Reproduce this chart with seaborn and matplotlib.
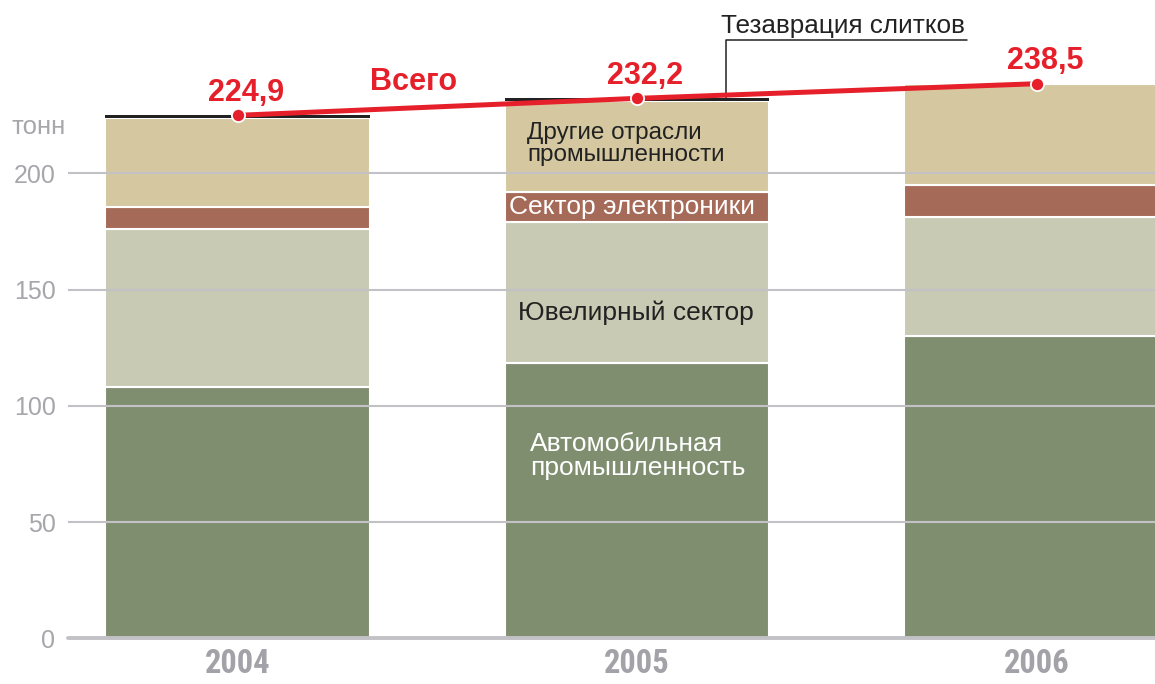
import numpy as np
import pandas as pd
import seaborn as sns
import matplotlib
matplotlib.use("Agg")
import matplotlib.pyplot as plt

# gold demand by sector, tonnes
years = ["2004", "2005", "2006"]
auto = [108.0, 118.5, 130.0]
jewelry = [68.0, 60.7, 51.3]
electronics = [9.6, 12.9, 13.7]
other = [38.0, 38.8, 43.5]
hoarding = [1.3, 1.3, 0.0]
totals = [224.9, 232.2, 238.5]
total_labels = ["224,9", "232,2", "238,5"]
yticks = [0, 50, 100, 150, 200]

RED = "#e6202a"
GRID = "#c2c2c6"
GREY_TXT = "#a6a6ab"
NARROW = ["Liberation Sans Narrow", "Roboto Condensed", "DejaVu Sans Condensed",
          "Open Sans Condensed", "DejaVu Sans"]

sns.set_theme(style="white")
plt.rcParams["font.family"] = ["Liberation Sans", "DejaVu Sans"]

W, H = 1155, 684
fig = plt.figure(figsize=(W / 100, H / 100), dpi=100)
# px -> figure coords: axes starts at x=68px, y of zero at 638px
ax = fig.add_axes([68 / W, (H - 638.3) / H, (W - 68) / W, 638.3 / H])

layers = [
    (auto, "#808e70", "white", 1.5),
    (jewelry, "#c8cab4", "white", 1.5),
    (electronics, "#a66a58", "white", 1.5),
    (other, "#d5c8a0", "white", 1.5),
    (hoarding, "#222222", "none", 0),
]
bottom = np.zeros(len(years))
for vals, col, ec, lw in layers:
    sns.barplot(x=years, y=vals, bottom=bottom, color=col, saturation=1,
                width=0.663, errorbar=None, edgecolor=ec, linewidth=lw, ax=ax)
    bottom = bottom + np.array(vals)

# x range so bars land where they do in the original (2006 bar cut by the edge)
ax.set_xlim(-0.4243, 2.2966)
ax.set_ylim(0, 274.5)
sns.despine(ax=ax, left=True, bottom=True)

ax.set_axisbelow(False)
ax.set_yticks(yticks)
ax.set_yticklabels([str(t) for t in yticks], fontsize=18, color=GREY_TXT)
ax.tick_params(axis="y", length=0, pad=9)
ax.tick_params(axis="x", length=0, pad=7)
ax.set_xticks(range(len(years)))
ax.set_xticklabels(years, fontsize=23.5, fontweight="bold", color="#a2a2a8",
                   family=NARROW, fontstretch="condensed")
ax.set_xlabel("")
ax.set_ylabel("")
for t in yticks[1:]:
    ax.axhline(t, color=GRID, lw=1.5, zorder=2.5)
ax.axhline(0, color=GRID, lw=2.8, zorder=2.5, clip_on=False)

# total line
ax.plot(range(len(years)), totals, color=RED, lw=3.6, marker="o", ms=9.5,
        mfc=RED, mec="white", mew=1.3, zorder=6, solid_capstyle="butt")
for i, (v, s) in enumerate(zip(totals, total_labels)):
    ax.annotate(s, (i, v), xytext=(6, 10.5), textcoords="offset points",
                ha="center", va="baseline", fontsize=22, fontweight="bold",
                color=RED, zorder=7)
ax.text(0.4418, 235.8, "Всего", ha="center", va="baseline", fontsize=22,
        fontweight="bold", color=RED, zorder=7)

# hoarding callout
ax.text(1.2103, 260.3, "Тезаврация слитков", ha="left", va="baseline",
        fontsize=18.8, color="#222222", clip_on=False)
ax.plot([1.2228, 1.2228, 1.826], [totals[1] + 0.3, 257.3, 257.3],
        color="#222222", lw=1.1, zorder=5, clip_on=False)

# segment labels inside 2005 bar
ax.text(0.7247, 212.4, "Другие отрасли\nпромышленности", ha="left", va="center",
        fontsize=17.5, color="#222222", linespacing=1.0, zorder=7)
ax.text(0.6796, 185.6, "Сектор электроники", ha="left", va="center",
        fontsize=19, color="white", zorder=7)
ax.text(0.7022, 139.9, "Ювелирный сектор", ha="left", va="center",
        fontsize=19, color="#222222", zorder=7)
ax.text(0.7322, 78.4, "Автомобильная\nпромышленность", ha="left", va="center",
        fontsize=19, color="white", linespacing=0.95, zorder=7)

fig.text(12 / W, 1 - 127 / H, "тонн", ha="left", va="center", fontsize=18.5,
         color=GREY_TXT)

fig.savefig("out.png", dpi=100)
